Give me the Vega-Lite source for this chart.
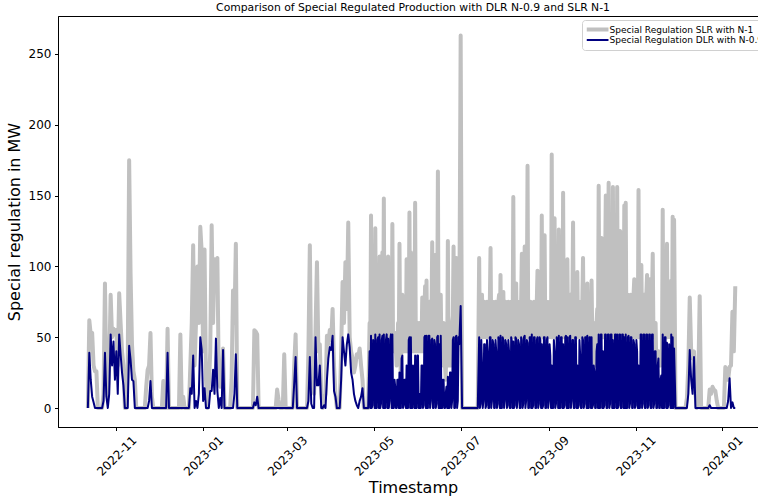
{
"$schema":"https://vega.github.io/schema/vega-lite/v6.json",
"width":710,"height":411,
"autosize":{"type":"none"},
"padding":{"left":58,"top":16,"right":0,"bottom":74},
"background":"white",
"title":{"text":"Comparison of Special Regulated Production with DLR N-0.9 and SLR N-1","fontSize":10.8,"fontWeight":"normal","font":"DejaVu Sans","color":"black","anchor":"middle","offset":3},
"config":{"font":"DejaVu Sans","view":{"stroke":"black","strokeWidth":1},
"axis":{"domainColor":"black","tickColor":"black","tickSize":3.5,"labelColor":"black","titleColor":"black","labelFontSize":12,"titleFontSize":16,"titleFontWeight":"normal","grid":false,"labelFont":"DejaVu Sans","titleFont":"DejaVu Sans"}},
"data":{"values":[
{"t":"2022-10-12","slr":0,"dlr":0},{"t":"2022-10-13","slr":62,"dlr":39},{"t":"2022-10-14","slr":52,"dlr":20},{"t":"2022-10-15","slr":53,"dlr":8},{"t":"2022-10-16","slr":30,"dlr":4},{"t":"2022-10-17","slr":26,"dlr":0},{"t":"2022-10-18","slr":26,"dlr":0},{"t":"2022-10-19","slr":0,"dlr":0},{"t":"2022-10-22","slr":0,"dlr":0},{"t":"2022-10-23","slr":10,"dlr":5},{"t":"2022-10-24","slr":88,"dlr":39},{"t":"2022-10-25","slr":20,"dlr":8},{"t":"2022-10-26","slr":8,"dlr":0},{"t":"2022-10-27","slr":30,"dlr":10},{"t":"2022-10-28","slr":80,"dlr":52},{"t":"2022-10-29","slr":50,"dlr":30},{"t":"2022-10-30","slr":56,"dlr":47},{"t":"2022-10-31","slr":52,"dlr":20},
{"t":"2022-11-01","slr":55,"dlr":40},{"t":"2022-11-02","slr":30,"dlr":10},{"t":"2022-11-03","slr":81,"dlr":52},{"t":"2022-11-04","slr":60,"dlr":38},{"t":"2022-11-05","slr":40,"dlr":25},{"t":"2022-11-06","slr":30,"dlr":16},{"t":"2022-11-07","slr":0,"dlr":0},{"t":"2022-11-08","slr":0,"dlr":0},{"t":"2022-11-09","slr":30,"dlr":0},{"t":"2022-11-10","slr":175,"dlr":44},{"t":"2022-11-11","slr":95,"dlr":34},{"t":"2022-11-12","slr":45,"dlr":20},{"t":"2022-11-13","slr":26,"dlr":19},{"t":"2022-11-14","slr":20,"dlr":0},{"t":"2022-11-15","slr":0,"dlr":0},{"t":"2022-11-21","slr":0,"dlr":0},{"t":"2022-11-22","slr":15,"dlr":0},{"t":"2022-11-23","slr":27,"dlr":0},{"t":"2022-11-24","slr":30,"dlr":5},{"t":"2022-11-25","slr":53,"dlr":19},{"t":"2022-11-26","slr":8,"dlr":0},{"t":"2022-11-27","slr":0,"dlr":0},
{"t":"2022-12-03","slr":0,"dlr":0},{"t":"2022-12-04","slr":19,"dlr":0},{"t":"2022-12-05","slr":0,"dlr":0},{"t":"2022-12-06","slr":0,"dlr":0},{"t":"2022-12-07","slr":56,"dlr":39},{"t":"2022-12-08","slr":0,"dlr":0},{"t":"2022-12-15","slr":0,"dlr":0},{"t":"2022-12-16","slr":52,"dlr":0},{"t":"2022-12-17","slr":0,"dlr":0},{"t":"2022-12-18","slr":8,"dlr":0},{"t":"2022-12-19","slr":0,"dlr":0},{"t":"2022-12-22","slr":0,"dlr":0},{"t":"2022-12-23","slr":30,"dlr":14},{"t":"2022-12-24","slr":60,"dlr":10},{"t":"2022-12-25","slr":115,"dlr":37},{"t":"2022-12-26","slr":30,"dlr":0},{"t":"2022-12-27","slr":60,"dlr":5},{"t":"2022-12-28","slr":100,"dlr":0},{"t":"2022-12-29","slr":60,"dlr":10},{"t":"2022-12-30","slr":128,"dlr":50},{"t":"2022-12-31","slr":110,"dlr":41},
{"t":"2023-01-01","slr":40,"dlr":5},{"t":"2023-01-02","slr":112,"dlr":14},{"t":"2023-01-03","slr":20,"dlr":0},{"t":"2023-01-04","slr":0,"dlr":0},{"t":"2023-01-05","slr":15,"dlr":0},{"t":"2023-01-06","slr":40,"dlr":12},{"t":"2023-01-07","slr":129,"dlr":12},{"t":"2023-01-08","slr":60,"dlr":27},{"t":"2023-01-09","slr":105,"dlr":10},{"t":"2023-01-10","slr":100,"dlr":49},{"t":"2023-01-11","slr":106,"dlr":12},{"t":"2023-01-12","slr":20,"dlr":0},{"t":"2023-01-13","slr":15,"dlr":7},{"t":"2023-01-14","slr":20,"dlr":0},{"t":"2023-01-15","slr":42,"dlr":41},{"t":"2023-01-16","slr":0,"dlr":0},{"t":"2023-01-20","slr":0,"dlr":0},{"t":"2023-01-21","slr":20,"dlr":0},{"t":"2023-01-22","slr":83,"dlr":0},{"t":"2023-01-23","slr":60,"dlr":10},{"t":"2023-01-24","slr":116,"dlr":38},{"t":"2023-01-25","slr":0,"dlr":0},
{"t":"2023-02-05","slr":0,"dlr":0},{"t":"2023-02-06","slr":55,"dlr":4},{"t":"2023-02-07","slr":54,"dlr":2},{"t":"2023-02-08","slr":52,"dlr":8},{"t":"2023-02-09","slr":0,"dlr":0},{"t":"2023-02-21","slr":0,"dlr":0},{"t":"2023-02-22","slr":13,"dlr":0},{"t":"2023-02-23","slr":6,"dlr":0},{"t":"2023-02-24","slr":0,"dlr":0},{"t":"2023-02-26","slr":0,"dlr":0},{"t":"2023-02-27","slr":38,"dlr":0},{"t":"2023-02-28","slr":0,"dlr":0},
{"t":"2023-03-05","slr":0,"dlr":0},{"t":"2023-03-06","slr":30,"dlr":17},{"t":"2023-03-07","slr":52,"dlr":36},{"t":"2023-03-08","slr":0,"dlr":0},{"t":"2023-03-15","slr":0,"dlr":0},{"t":"2023-03-16","slr":40,"dlr":5},{"t":"2023-03-17","slr":115,"dlr":36},{"t":"2023-03-18","slr":20,"dlr":3},{"t":"2023-03-19","slr":20,"dlr":0},{"t":"2023-03-20","slr":10,"dlr":0},{"t":"2023-03-21","slr":55,"dlr":50},{"t":"2023-03-22","slr":103,"dlr":16},{"t":"2023-03-23","slr":40,"dlr":16},{"t":"2023-03-24","slr":45,"dlr":30},{"t":"2023-03-25","slr":10,"dlr":0},{"t":"2023-03-26","slr":0,"dlr":0},{"t":"2023-03-27","slr":5,"dlr":2},{"t":"2023-03-28","slr":10,"dlr":0},{"t":"2023-03-29","slr":51,"dlr":20},{"t":"2023-03-30","slr":45,"dlr":35},{"t":"2023-03-31","slr":55,"dlr":43},
{"t":"2023-04-01","slr":48,"dlr":41},{"t":"2023-04-02","slr":70,"dlr":51},{"t":"2023-04-03","slr":30,"dlr":12},{"t":"2023-04-04","slr":10,"dlr":8},{"t":"2023-04-05","slr":0,"dlr":0},{"t":"2023-04-07","slr":0,"dlr":0},{"t":"2023-04-08","slr":40,"dlr":20},{"t":"2023-04-09","slr":89,"dlr":50},{"t":"2023-04-10","slr":60,"dlr":40},{"t":"2023-04-11","slr":103,"dlr":30},{"t":"2023-04-12","slr":70,"dlr":45},{"t":"2023-04-13","slr":131,"dlr":52},{"t":"2023-04-14","slr":50,"dlr":43},{"t":"2023-04-15","slr":40,"dlr":25},{"t":"2023-04-16","slr":35,"dlr":20},{"t":"2023-04-17","slr":25,"dlr":10},{"t":"2023-04-18","slr":30,"dlr":5},{"t":"2023-04-19","slr":38,"dlr":2},{"t":"2023-04-20","slr":36,"dlr":0},{"t":"2023-04-21","slr":42,"dlr":5},{"t":"2023-04-22","slr":30,"dlr":8},{"t":"2023-04-23","slr":20,"dlr":14},{"t":"2023-04-24","slr":0,"dlr":0},{"t":"2023-04-27","slr":0,"dlr":0},{"t":"2023-04-28","slr":60,"dlr":40},{"t":"2023-04-29","slr":136,"dlr":51},{"t":"2023-04-30","slr":50,"dlr":2},
{"t":"2023-05-01","slr":100,"dlr":45},{"t":"2023-05-02","slr":127,"dlr":52},{"t":"2023-05-03","slr":55,"dlr":0},{"t":"2023-05-04","slr":80,"dlr":50},{"t":"2023-05-05","slr":107,"dlr":52},{"t":"2023-05-06","slr":55,"dlr":3},{"t":"2023-05-07","slr":110,"dlr":51},{"t":"2023-05-08","slr":148,"dlr":52},{"t":"2023-05-09","slr":55,"dlr":0},{"t":"2023-05-10","slr":100,"dlr":52},{"t":"2023-05-11","slr":107,"dlr":49},{"t":"2023-05-12","slr":55,"dlr":5},{"t":"2023-05-13","slr":100,"dlr":52},{"t":"2023-05-14","slr":130,"dlr":52},{"t":"2023-05-15","slr":50,"dlr":0},{"t":"2023-05-16","slr":53,"dlr":15},{"t":"2023-05-17","slr":30,"dlr":0},{"t":"2023-05-18","slr":60,"dlr":20},{"t":"2023-05-19","slr":116,"dlr":25},{"t":"2023-05-20","slr":20,"dlr":0},{"t":"2023-05-21","slr":80,"dlr":37},{"t":"2023-05-22","slr":40,"dlr":2},{"t":"2023-05-23","slr":50,"dlr":20},{"t":"2023-05-24","slr":105,"dlr":30},{"t":"2023-05-25","slr":40,"dlr":0},{"t":"2023-05-26","slr":138,"dlr":50},{"t":"2023-05-27","slr":110,"dlr":50},{"t":"2023-05-28","slr":50,"dlr":0},{"t":"2023-05-29","slr":80,"dlr":25},{"t":"2023-05-30","slr":145,"dlr":37},{"t":"2023-05-31","slr":40,"dlr":0},
{"t":"2023-06-01","slr":60,"dlr":37},{"t":"2023-06-02","slr":60,"dlr":10},{"t":"2023-06-03","slr":40,"dlr":0},{"t":"2023-06-04","slr":78,"dlr":30},{"t":"2023-06-05","slr":60,"dlr":2},{"t":"2023-06-06","slr":86,"dlr":51},{"t":"2023-06-07","slr":90,"dlr":51},{"t":"2023-06-08","slr":60,"dlr":0},{"t":"2023-06-09","slr":75,"dlr":51},{"t":"2023-06-10","slr":50,"dlr":5},{"t":"2023-06-11","slr":117,"dlr":49},{"t":"2023-06-12","slr":60,"dlr":0},{"t":"2023-06-13","slr":108,"dlr":45},{"t":"2023-06-14","slr":60,"dlr":3},{"t":"2023-06-15","slr":167,"dlr":51},{"t":"2023-06-16","slr":70,"dlr":45},{"t":"2023-06-17","slr":80,"dlr":51},{"t":"2023-06-18","slr":50,"dlr":0},{"t":"2023-06-19","slr":60,"dlr":20},{"t":"2023-06-20","slr":30,"dlr":0},{"t":"2023-06-21","slr":50,"dlr":15},{"t":"2023-06-22","slr":118,"dlr":22},{"t":"2023-06-23","slr":30,"dlr":0},{"t":"2023-06-24","slr":50,"dlr":25},{"t":"2023-06-25","slr":60,"dlr":5},{"t":"2023-06-26","slr":114,"dlr":50},{"t":"2023-06-27","slr":60,"dlr":0},{"t":"2023-06-28","slr":106,"dlr":51},{"t":"2023-06-29","slr":60,"dlr":5},{"t":"2023-06-30","slr":50,"dlr":45},
{"t":"2023-07-01","slr":263,"dlr":72},{"t":"2023-07-02","slr":0,"dlr":0},{"t":"2023-07-13","slr":0,"dlr":0},{"t":"2023-07-14","slr":106,"dlr":50},{"t":"2023-07-15","slr":55,"dlr":3},{"t":"2023-07-16","slr":80,"dlr":30},{"t":"2023-07-17","slr":65,"dlr":5},{"t":"2023-07-18","slr":55,"dlr":45},{"t":"2023-07-19","slr":60,"dlr":2},{"t":"2023-07-20","slr":70,"dlr":40},{"t":"2023-07-21","slr":55,"dlr":0},{"t":"2023-07-22","slr":113,"dlr":50},{"t":"2023-07-23","slr":60,"dlr":5},{"t":"2023-07-24","slr":70,"dlr":45},{"t":"2023-07-25","slr":55,"dlr":0},{"t":"2023-07-26","slr":70,"dlr":40},{"t":"2023-07-27","slr":55,"dlr":3},{"t":"2023-07-28","slr":80,"dlr":45},{"t":"2023-07-29","slr":94,"dlr":51},{"t":"2023-07-30","slr":55,"dlr":0},{"t":"2023-07-31","slr":82,"dlr":48},
{"t":"2023-08-01","slr":60,"dlr":5},{"t":"2023-08-02","slr":65,"dlr":45},{"t":"2023-08-03","slr":55,"dlr":2},{"t":"2023-08-04","slr":60,"dlr":40},{"t":"2023-08-05","slr":55,"dlr":0},{"t":"2023-08-06","slr":70,"dlr":47},{"t":"2023-08-07","slr":149,"dlr":47},{"t":"2023-08-08","slr":55,"dlr":2},{"t":"2023-08-09","slr":88,"dlr":49},{"t":"2023-08-10","slr":60,"dlr":5},{"t":"2023-08-11","slr":60,"dlr":45},{"t":"2023-08-12","slr":55,"dlr":0},{"t":"2023-08-13","slr":109,"dlr":48},{"t":"2023-08-14","slr":60,"dlr":3},{"t":"2023-08-15","slr":114,"dlr":51},{"t":"2023-08-16","slr":60,"dlr":5},{"t":"2023-08-17","slr":171,"dlr":46},{"t":"2023-08-18","slr":60,"dlr":0},{"t":"2023-08-19","slr":75,"dlr":50},{"t":"2023-08-20","slr":70,"dlr":52},{"t":"2023-08-21","slr":55,"dlr":2},{"t":"2023-08-22","slr":65,"dlr":50},{"t":"2023-08-23","slr":55,"dlr":0},{"t":"2023-08-24","slr":97,"dlr":50},{"t":"2023-08-25","slr":60,"dlr":3},{"t":"2023-08-26","slr":65,"dlr":48},{"t":"2023-08-27","slr":136,"dlr":45},{"t":"2023-08-28","slr":60,"dlr":2},{"t":"2023-08-29","slr":122,"dlr":50},{"t":"2023-08-30","slr":55,"dlr":0},{"t":"2023-08-31","slr":60,"dlr":50},
{"t":"2023-09-01","slr":55,"dlr":5},{"t":"2023-09-02","slr":70,"dlr":37},{"t":"2023-09-03","slr":179,"dlr":30},{"t":"2023-09-04","slr":55,"dlr":0},{"t":"2023-09-05","slr":134,"dlr":40},{"t":"2023-09-06","slr":60,"dlr":3},{"t":"2023-09-07","slr":70,"dlr":45},{"t":"2023-09-08","slr":126,"dlr":51},{"t":"2023-09-09","slr":60,"dlr":0},{"t":"2023-09-10","slr":80,"dlr":50},{"t":"2023-09-11","slr":152,"dlr":45},{"t":"2023-09-12","slr":60,"dlr":2},{"t":"2023-09-13","slr":70,"dlr":51},{"t":"2023-09-14","slr":105,"dlr":50},{"t":"2023-09-15","slr":60,"dlr":0},{"t":"2023-09-16","slr":80,"dlr":51},{"t":"2023-09-17","slr":60,"dlr":5},{"t":"2023-09-18","slr":131,"dlr":48},{"t":"2023-09-19","slr":60,"dlr":0},{"t":"2023-09-20","slr":75,"dlr":50},{"t":"2023-09-21","slr":96,"dlr":30},{"t":"2023-09-22","slr":55,"dlr":2},{"t":"2023-09-23","slr":70,"dlr":37},{"t":"2023-09-24","slr":55,"dlr":0},{"t":"2023-09-25","slr":106,"dlr":48},{"t":"2023-09-26","slr":60,"dlr":3},{"t":"2023-09-27","slr":70,"dlr":50},{"t":"2023-09-28","slr":88,"dlr":51},{"t":"2023-09-29","slr":55,"dlr":0},{"t":"2023-09-30","slr":70,"dlr":50},
{"t":"2023-10-01","slr":90,"dlr":50},{"t":"2023-10-02","slr":55,"dlr":2},{"t":"2023-10-03","slr":40,"dlr":25},{"t":"2023-10-04","slr":30,"dlr":0},{"t":"2023-10-05","slr":70,"dlr":45},{"t":"2023-10-06","slr":157,"dlr":52},{"t":"2023-10-07","slr":60,"dlr":0},{"t":"2023-10-08","slr":120,"dlr":52},{"t":"2023-10-09","slr":100,"dlr":40},{"t":"2023-10-10","slr":60,"dlr":2},{"t":"2023-10-11","slr":150,"dlr":52},{"t":"2023-10-12","slr":100,"dlr":0},{"t":"2023-10-13","slr":159,"dlr":52},{"t":"2023-10-14","slr":80,"dlr":3},{"t":"2023-10-15","slr":110,"dlr":52},{"t":"2023-10-16","slr":156,"dlr":48},{"t":"2023-10-17","slr":80,"dlr":0},{"t":"2023-10-18","slr":120,"dlr":52},{"t":"2023-10-19","slr":156,"dlr":52},{"t":"2023-10-20","slr":80,"dlr":2},{"t":"2023-10-21","slr":125,"dlr":52},{"t":"2023-10-22","slr":70,"dlr":0},{"t":"2023-10-23","slr":124,"dlr":52},{"t":"2023-10-24","slr":143,"dlr":50},{"t":"2023-10-25","slr":145,"dlr":52},{"t":"2023-10-26","slr":60,"dlr":0},{"t":"2023-10-27","slr":74,"dlr":51},{"t":"2023-10-28","slr":55,"dlr":3},{"t":"2023-10-29","slr":70,"dlr":50},{"t":"2023-10-30","slr":55,"dlr":0},{"t":"2023-10-31","slr":91,"dlr":45},
{"t":"2023-11-01","slr":60,"dlr":2},{"t":"2023-11-02","slr":70,"dlr":40},{"t":"2023-11-03","slr":154,"dlr":30},{"t":"2023-11-04","slr":60,"dlr":0},{"t":"2023-11-05","slr":101,"dlr":52},{"t":"2023-11-06","slr":60,"dlr":3},{"t":"2023-11-07","slr":80,"dlr":52},{"t":"2023-11-08","slr":60,"dlr":0},{"t":"2023-11-09","slr":94,"dlr":52},{"t":"2023-11-10","slr":60,"dlr":2},{"t":"2023-11-11","slr":91,"dlr":52},{"t":"2023-11-12","slr":60,"dlr":0},{"t":"2023-11-13","slr":109,"dlr":52},{"t":"2023-11-14","slr":60,"dlr":3},{"t":"2023-11-15","slr":60,"dlr":40},{"t":"2023-11-16","slr":40,"dlr":0},{"t":"2023-11-17","slr":40,"dlr":35},{"t":"2023-11-18","slr":30,"dlr":0},{"t":"2023-11-19","slr":40,"dlr":23},{"t":"2023-11-20","slr":140,"dlr":52},{"t":"2023-11-21","slr":60,"dlr":0},{"t":"2023-11-22","slr":90,"dlr":50},{"t":"2023-11-23","slr":116,"dlr":46},{"t":"2023-11-24","slr":60,"dlr":2},{"t":"2023-11-25","slr":60,"dlr":35},{"t":"2023-11-26","slr":90,"dlr":52},{"t":"2023-11-27","slr":135,"dlr":50},{"t":"2023-11-28","slr":133,"dlr":42},{"t":"2023-11-29","slr":0,"dlr":0},
{"t":"2023-12-06","slr":0,"dlr":0},{"t":"2023-12-07","slr":7,"dlr":0},{"t":"2023-12-08","slr":30,"dlr":10},{"t":"2023-12-09","slr":78,"dlr":41},{"t":"2023-12-10","slr":40,"dlr":20},{"t":"2023-12-11","slr":35,"dlr":10},{"t":"2023-12-12","slr":40,"dlr":36},{"t":"2023-12-13","slr":10,"dlr":0},{"t":"2023-12-14","slr":0,"dlr":0},{"t":"2023-12-15","slr":20,"dlr":0},{"t":"2023-12-16","slr":79,"dlr":0},{"t":"2023-12-17","slr":0,"dlr":0},{"t":"2023-12-22","slr":0,"dlr":0},{"t":"2023-12-23","slr":13,"dlr":2},{"t":"2023-12-24","slr":10,"dlr":0},{"t":"2023-12-25","slr":15,"dlr":0},{"t":"2023-12-26","slr":13,"dlr":0},{"t":"2023-12-27","slr":12,"dlr":0},{"t":"2023-12-28","slr":5,"dlr":0},{"t":"2023-12-29","slr":0,"dlr":0},
{"t":"2024-01-02","slr":0,"dlr":0},{"t":"2024-01-03","slr":29,"dlr":0},{"t":"2024-01-04","slr":25,"dlr":0},{"t":"2024-01-05","slr":20,"dlr":5},{"t":"2024-01-06","slr":29,"dlr":21},{"t":"2024-01-07","slr":30,"dlr":0},{"t":"2024-01-08","slr":68,"dlr":4},{"t":"2024-01-09","slr":40,"dlr":0},{"t":"2024-01-10","slr":86,"dlr":0},
{"t":"2023-04-28T12:00Z","slr":40,"dlr":0},{"t":"2023-04-29T12:00Z","slr":40,"dlr":0},{"t":"2023-04-30T12:00Z","slr":65,"dlr":48},
{"t":"2023-05-01T12:00Z","slr":40,"dlr":0},{"t":"2023-05-02T12:00Z","slr":40,"dlr":0},{"t":"2023-05-03T12:00Z","slr":65,"dlr":48},{"t":"2023-05-04T12:00Z","slr":40,"dlr":0},{"t":"2023-05-05T12:00Z","slr":40,"dlr":0},{"t":"2023-05-06T12:00Z","slr":65,"dlr":48},{"t":"2023-05-07T12:00Z","slr":40,"dlr":0},{"t":"2023-05-08T12:00Z","slr":40,"dlr":0},{"t":"2023-05-09T12:00Z","slr":65,"dlr":48},{"t":"2023-05-10T12:00Z","slr":40,"dlr":0},{"t":"2023-05-11T12:00Z","slr":40,"dlr":0},{"t":"2023-05-12T12:00Z","slr":65,"dlr":48},{"t":"2023-05-13T12:00Z","slr":40,"dlr":0},{"t":"2023-05-14T12:00Z","slr":40,"dlr":0},{"t":"2023-05-15T12:00Z","slr":40,"dlr":20},{"t":"2023-05-16T12:00Z","slr":40,"dlr":0},{"t":"2023-05-17T12:00Z","slr":40,"dlr":20},{"t":"2023-05-18T12:00Z","slr":40,"dlr":0},{"t":"2023-05-19T12:00Z","slr":40,"dlr":0},{"t":"2023-05-20T12:00Z","slr":50,"dlr":35},{"t":"2023-05-21T12:00Z","slr":40,"dlr":0},{"t":"2023-05-22T12:00Z","slr":40,"dlr":20},{"t":"2023-05-23T12:00Z","slr":40,"dlr":0},{"t":"2023-05-24T12:00Z","slr":40,"dlr":0},{"t":"2023-05-25T12:00Z","slr":65,"dlr":48},{"t":"2023-05-26T12:00Z","slr":40,"dlr":0},{"t":"2023-05-27T12:00Z","slr":40,"dlr":0},{"t":"2023-05-28T12:00Z","slr":50,"dlr":30},{"t":"2023-05-29T12:00Z","slr":40,"dlr":0},{"t":"2023-05-30T12:00Z","slr":40,"dlr":0},{"t":"2023-05-31T12:00Z","slr":50,"dlr":37},
{"t":"2023-06-01T12:00Z","slr":40,"dlr":0},{"t":"2023-06-02T12:00Z","slr":40,"dlr":0},{"t":"2023-06-03T12:00Z","slr":45,"dlr":30},{"t":"2023-06-04T12:00Z","slr":40,"dlr":0},{"t":"2023-06-05T12:00Z","slr":65,"dlr":50},{"t":"2023-06-06T12:00Z","slr":40,"dlr":0},{"t":"2023-06-07T12:00Z","slr":40,"dlr":0},{"t":"2023-06-08T12:00Z","slr":65,"dlr":51},{"t":"2023-06-09T12:00Z","slr":40,"dlr":0},{"t":"2023-06-10T12:00Z","slr":65,"dlr":48},{"t":"2023-06-11T12:00Z","slr":40,"dlr":0},{"t":"2023-06-12T12:00Z","slr":65,"dlr":48},{"t":"2023-06-13T12:00Z","slr":40,"dlr":0},{"t":"2023-06-14T12:00Z","slr":65,"dlr":50},{"t":"2023-06-15T12:00Z","slr":40,"dlr":0},{"t":"2023-06-16T12:00Z","slr":40,"dlr":0},{"t":"2023-06-17T12:00Z","slr":40,"dlr":0},{"t":"2023-06-18T12:00Z","slr":30,"dlr":20},{"t":"2023-06-19T12:00Z","slr":30,"dlr":0},{"t":"2023-06-20T12:00Z","slr":20,"dlr":10},{"t":"2023-06-21T12:00Z","slr":30,"dlr":0},{"t":"2023-06-22T12:00Z","slr":30,"dlr":0},{"t":"2023-06-23T12:00Z","slr":30,"dlr":25},{"t":"2023-06-24T12:00Z","slr":30,"dlr":0},{"t":"2023-06-25T12:00Z","slr":65,"dlr":48},{"t":"2023-06-26T12:00Z","slr":40,"dlr":0},{"t":"2023-06-27T12:00Z","slr":65,"dlr":50},{"t":"2023-06-28T12:00Z","slr":40,"dlr":0},{"t":"2023-06-29T12:00Z","slr":65,"dlr":50},
{"t":"2023-07-14T12:00Z","slr":50,"dlr":0},{"t":"2023-07-15T12:00Z","slr":75,"dlr":48},{"t":"2023-07-16T12:00Z","slr":50,"dlr":0},{"t":"2023-07-17T12:00Z","slr":75,"dlr":45},{"t":"2023-07-18T12:00Z","slr":50,"dlr":0},{"t":"2023-07-19T12:00Z","slr":75,"dlr":48},{"t":"2023-07-20T12:00Z","slr":50,"dlr":0},{"t":"2023-07-21T12:00Z","slr":75,"dlr":50},{"t":"2023-07-22T12:00Z","slr":50,"dlr":0},{"t":"2023-07-23T12:00Z","slr":75,"dlr":48},{"t":"2023-07-24T12:00Z","slr":50,"dlr":0},{"t":"2023-07-25T12:00Z","slr":75,"dlr":48},{"t":"2023-07-26T12:00Z","slr":50,"dlr":0},{"t":"2023-07-27T12:00Z","slr":75,"dlr":50},{"t":"2023-07-28T12:00Z","slr":50,"dlr":0},{"t":"2023-07-29T12:00Z","slr":50,"dlr":0},{"t":"2023-07-30T12:00Z","slr":75,"dlr":50},{"t":"2023-07-31T12:00Z","slr":50,"dlr":0},
{"t":"2023-08-01T12:00Z","slr":75,"dlr":48},{"t":"2023-08-02T12:00Z","slr":50,"dlr":0},{"t":"2023-08-03T12:00Z","slr":75,"dlr":48},{"t":"2023-08-04T12:00Z","slr":50,"dlr":0},{"t":"2023-08-05T12:00Z","slr":75,"dlr":50},{"t":"2023-08-06T12:00Z","slr":50,"dlr":0},{"t":"2023-08-07T12:00Z","slr":50,"dlr":0},{"t":"2023-08-08T12:00Z","slr":75,"dlr":50},{"t":"2023-08-09T12:00Z","slr":50,"dlr":0},{"t":"2023-08-10T12:00Z","slr":75,"dlr":48},{"t":"2023-08-11T12:00Z","slr":50,"dlr":0},{"t":"2023-08-12T12:00Z","slr":75,"dlr":50},{"t":"2023-08-13T12:00Z","slr":50,"dlr":0},{"t":"2023-08-14T12:00Z","slr":75,"dlr":50},{"t":"2023-08-15T12:00Z","slr":50,"dlr":0},{"t":"2023-08-16T12:00Z","slr":75,"dlr":48},{"t":"2023-08-17T12:00Z","slr":50,"dlr":0},{"t":"2023-08-18T12:00Z","slr":75,"dlr":50},{"t":"2023-08-19T12:00Z","slr":50,"dlr":0},{"t":"2023-08-20T12:00Z","slr":50,"dlr":0},{"t":"2023-08-21T12:00Z","slr":75,"dlr":50},{"t":"2023-08-22T12:00Z","slr":50,"dlr":0},{"t":"2023-08-23T12:00Z","slr":75,"dlr":48},{"t":"2023-08-24T12:00Z","slr":50,"dlr":0},{"t":"2023-08-25T12:00Z","slr":75,"dlr":50},{"t":"2023-08-26T12:00Z","slr":50,"dlr":0},{"t":"2023-08-27T12:00Z","slr":50,"dlr":0},{"t":"2023-08-28T12:00Z","slr":75,"dlr":50},{"t":"2023-08-29T12:00Z","slr":50,"dlr":0},{"t":"2023-08-30T12:00Z","slr":75,"dlr":48},{"t":"2023-08-31T12:00Z","slr":50,"dlr":0},
{"t":"2023-09-01T12:00Z","slr":75,"dlr":45},{"t":"2023-09-02T12:00Z","slr":50,"dlr":0},{"t":"2023-09-03T12:00Z","slr":50,"dlr":0},{"t":"2023-09-04T12:00Z","slr":75,"dlr":48},{"t":"2023-09-05T12:00Z","slr":50,"dlr":0},{"t":"2023-09-06T12:00Z","slr":75,"dlr":50},{"t":"2023-09-07T12:00Z","slr":50,"dlr":0},{"t":"2023-09-08T12:00Z","slr":50,"dlr":0},{"t":"2023-09-09T12:00Z","slr":75,"dlr":50},{"t":"2023-09-10T12:00Z","slr":50,"dlr":0},{"t":"2023-09-11T12:00Z","slr":50,"dlr":0},{"t":"2023-09-12T12:00Z","slr":75,"dlr":50},{"t":"2023-09-13T12:00Z","slr":50,"dlr":0},{"t":"2023-09-14T12:00Z","slr":50,"dlr":0},{"t":"2023-09-15T12:00Z","slr":75,"dlr":50},{"t":"2023-09-16T12:00Z","slr":50,"dlr":0},{"t":"2023-09-17T12:00Z","slr":75,"dlr":48},{"t":"2023-09-18T12:00Z","slr":50,"dlr":0},{"t":"2023-09-19T12:00Z","slr":75,"dlr":50},{"t":"2023-09-20T12:00Z","slr":50,"dlr":0},{"t":"2023-09-21T12:00Z","slr":50,"dlr":0},{"t":"2023-09-22T12:00Z","slr":75,"dlr":48},{"t":"2023-09-23T12:00Z","slr":50,"dlr":0},{"t":"2023-09-24T12:00Z","slr":75,"dlr":50},{"t":"2023-09-25T12:00Z","slr":50,"dlr":0},{"t":"2023-09-26T12:00Z","slr":75,"dlr":50},{"t":"2023-09-27T12:00Z","slr":50,"dlr":0},{"t":"2023-09-28T12:00Z","slr":50,"dlr":0},{"t":"2023-09-29T12:00Z","slr":75,"dlr":50},{"t":"2023-09-30T12:00Z","slr":50,"dlr":0},
{"t":"2023-10-01T12:00Z","slr":50,"dlr":0},{"t":"2023-10-02T12:00Z","slr":60,"dlr":30},{"t":"2023-10-03T12:00Z","slr":30,"dlr":0},{"t":"2023-10-04T12:00Z","slr":60,"dlr":40},{"t":"2023-10-05T12:00Z","slr":50,"dlr":0},{"t":"2023-10-06T12:00Z","slr":50,"dlr":0},{"t":"2023-10-07T12:00Z","slr":100,"dlr":52},{"t":"2023-10-08T12:00Z","slr":50,"dlr":0},{"t":"2023-10-09T12:00Z","slr":50,"dlr":0},{"t":"2023-10-10T12:00Z","slr":100,"dlr":52},{"t":"2023-10-11T12:00Z","slr":50,"dlr":0},{"t":"2023-10-12T12:00Z","slr":100,"dlr":52},{"t":"2023-10-13T12:00Z","slr":50,"dlr":0},{"t":"2023-10-14T12:00Z","slr":100,"dlr":52},{"t":"2023-10-15T12:00Z","slr":50,"dlr":0},{"t":"2023-10-16T12:00Z","slr":50,"dlr":0},{"t":"2023-10-17T12:00Z","slr":100,"dlr":52},{"t":"2023-10-18T12:00Z","slr":50,"dlr":0},{"t":"2023-10-19T12:00Z","slr":50,"dlr":0},{"t":"2023-10-20T12:00Z","slr":100,"dlr":52},{"t":"2023-10-21T12:00Z","slr":50,"dlr":0},{"t":"2023-10-22T12:00Z","slr":100,"dlr":52},{"t":"2023-10-23T12:00Z","slr":50,"dlr":0},{"t":"2023-10-24T12:00Z","slr":50,"dlr":0},{"t":"2023-10-25T12:00Z","slr":50,"dlr":0},{"t":"2023-10-26T12:00Z","slr":80,"dlr":50},{"t":"2023-10-27T12:00Z","slr":50,"dlr":0},{"t":"2023-10-28T12:00Z","slr":80,"dlr":50},{"t":"2023-10-29T12:00Z","slr":50,"dlr":0},{"t":"2023-10-30T12:00Z","slr":80,"dlr":48},{"t":"2023-10-31T12:00Z","slr":50,"dlr":0},
{"t":"2023-11-01T12:00Z","slr":80,"dlr":48},{"t":"2023-11-02T12:00Z","slr":50,"dlr":0},{"t":"2023-11-03T12:00Z","slr":50,"dlr":0},{"t":"2023-11-04T12:00Z","slr":80,"dlr":52},{"t":"2023-11-05T12:00Z","slr":50,"dlr":0},{"t":"2023-11-06T12:00Z","slr":80,"dlr":52},{"t":"2023-11-07T12:00Z","slr":50,"dlr":0},{"t":"2023-11-08T12:00Z","slr":80,"dlr":52},{"t":"2023-11-09T12:00Z","slr":50,"dlr":0},{"t":"2023-11-10T12:00Z","slr":80,"dlr":52},{"t":"2023-11-11T12:00Z","slr":50,"dlr":0},{"t":"2023-11-12T12:00Z","slr":80,"dlr":52},{"t":"2023-11-13T12:00Z","slr":50,"dlr":0},{"t":"2023-11-14T12:00Z","slr":60,"dlr":40},{"t":"2023-11-15T12:00Z","slr":30,"dlr":0},{"t":"2023-11-16T12:00Z","slr":40,"dlr":30},{"t":"2023-11-17T12:00Z","slr":30,"dlr":0},{"t":"2023-11-18T12:00Z","slr":30,"dlr":20},{"t":"2023-11-19T12:00Z","slr":40,"dlr":0},{"t":"2023-11-20T12:00Z","slr":50,"dlr":0},{"t":"2023-11-21T12:00Z","slr":80,"dlr":50},{"t":"2023-11-22T12:00Z","slr":50,"dlr":0},{"t":"2023-11-23T12:00Z","slr":50,"dlr":0},{"t":"2023-11-24T12:00Z","slr":70,"dlr":45},{"t":"2023-11-25T12:00Z","slr":50,"dlr":0},{"t":"2023-11-26T12:00Z","slr":50,"dlr":0},{"t":"2023-11-27T12:00Z","slr":50,"dlr":0}
]},
"transform":[{"fold":["slr","dlr"],"as":["series","mw"]}],
"mark":{"type":"line","strokeJoin":"round","clip":true},
"encoding":{
"x":{"field":"t","type":"temporal","scale":{"domain":[{"year":2022,"month":"sep","date":21},{"year":2024,"month":"feb","date":2}]},
"axis":{"title":"Timestamp","values":[{"year":2022,"month":"nov","date":1},{"year":2023,"month":"jan","date":1},{"year":2023,"month":"mar","date":1},{"year":2023,"month":"may","date":1},{"year":2023,"month":"jul","date":1},{"year":2023,"month":"sep","date":1},{"year":2023,"month":"nov","date":1},{"year":2024,"month":"jan","date":1}],"format":"%Y-%m","labelAngle":-45,"labelAlign":"center","labelBaseline":"middle","labelPadding":25,"titlePadding":2,"labelOverlap":false}},
"y":{"field":"mw","type":"quantitative","scale":{"domain":[-13.4,276.8],"nice":false,"zero":false},
"axis":{"title":"Special regulation in MW","values":[0,50,100,150,200,250],"labelPadding":3.5,"titlePadding":6}},
"color":{"field":"series","type":"nominal","scale":{"domain":["slr","dlr"],"range":["#c0c0c0","#000080"]},
"legend":{"title":null,"orient":"none","legendX":524,"legendY":4,"labelExpr":"datum.value == 'slr' ? 'Special Regulation SLR with N-1' : 'Special Regulation DLR with N-0.9'","labelFontSize":9,"labelColor":"black","fillColor":"white","strokeColor":"#d0d0d0","cornerRadius":3,"padding":4.5,"symbolType":"M-1.44,0H3.44","symbolSize":81,"labelOffset":10,"rowPadding":0.5,"clipHeight":10}},
"strokeWidth":{"field":"series","type":"nominal","scale":{"domain":["slr","dlr"],"range":[4,2]},
"legend":{"title":null,"orient":"none","legendX":524,"legendY":4,"labelExpr":"datum.value == 'slr' ? 'Special Regulation SLR with N-1' : 'Special Regulation DLR with N-0.9'","labelFontSize":9,"labelColor":"black","fillColor":"white","strokeColor":"#d0d0d0","cornerRadius":3,"padding":4.5,"symbolType":"M-1.44,0H3.44","symbolSize":81,"labelOffset":10,"rowPadding":0.5,"clipHeight":10}}
}
}
